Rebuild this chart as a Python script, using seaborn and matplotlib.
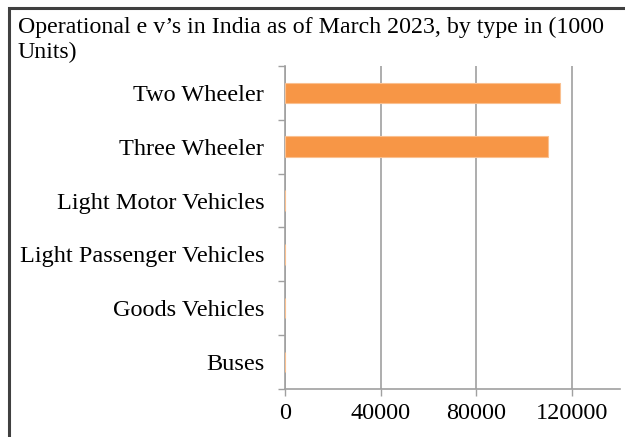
import numpy as np
import pandas as pd
import seaborn as sns
import matplotlib
matplotlib.use('Agg')
import matplotlib.pyplot as plt
from matplotlib.patches import Rectangle

# 数据
categories = ['Two Wheeler', 'Three Wheeler', 'Light Motor Vehicles',
              'Light Passenger Vehicles', 'Goods Vehicles', 'Buses']
units = [115000, 110000, 0, 0, 0, 0]
xticks = [0, 40000, 80000, 120000]

df = pd.DataFrame({'type': categories, 'units': units})

sns.set_theme(style='white')
plt.rcParams['font.family'] = ['Liberation Serif', 'DejaVu Serif']

fig = plt.figure(figsize=(6.25, 4.37), dpi=100)
ax = fig.add_axes([0.456, 0.110, 0.536, 0.739])

sns.barplot(data=df, x='units', y='type', color='#F79646', saturation=1,
            width=0.38, edgecolor='#FAC090', linewidth=0.8, ax=ax, zorder=3)

ax.set_xlim(0, 140000)
ax.set_ylim(len(categories) - 0.5, -0.5)
ax.set_xticks(xticks)
ax.set_xticklabels([str(v) for v in xticks], fontsize=17.5, color='black')
ax.set_yticks(range(len(categories)))
ax.set_yticklabels(categories, fontsize=17.5, color='black')
ax.set_yticks(np.arange(-0.5, len(categories)), minor=True)
ax.tick_params(axis='y', which='major', left=False, length=0, pad=15)
ax.tick_params(axis='y', which='minor', left=True, length=5, width=1,
               color='#a0a0a0', direction='out')
ax.tick_params(axis='x', which='major', bottom=True, length=5, width=1,
               color='#a0a0a0', direction='out', pad=5)
ax.set_xlabel('')
ax.set_ylabel('')

# 竖向网格线
ax.grid(axis='x', color='#a0a0a0', linewidth=1.2, zorder=0)
ax.set_axisbelow(True)
for s in ['top', 'right']:
    ax.spines[s].set_visible(False)
for s in ['left', 'bottom']:
    ax.spines[s].set_color('#a0a0a0')
    ax.spines[s].set_linewidth(1.2)

fig.text(18 / 625, 1 - 17 / 437,
         'Operational e v\u2019s in India as of March 2023, by type in (1000\nUnits)',
         ha='left', va='top', fontsize=17.2, linespacing=1.2, color='black')

# 外框
fig.patches.append(Rectangle((8.5 / 625, -0.1), 1.2, 1 - 8.5 / 437 + 0.1,
                             transform=fig.transFigure, fill=False,
                             edgecolor='#404040', linewidth=2.2))

fig.savefig('out.png', dpi=100)
